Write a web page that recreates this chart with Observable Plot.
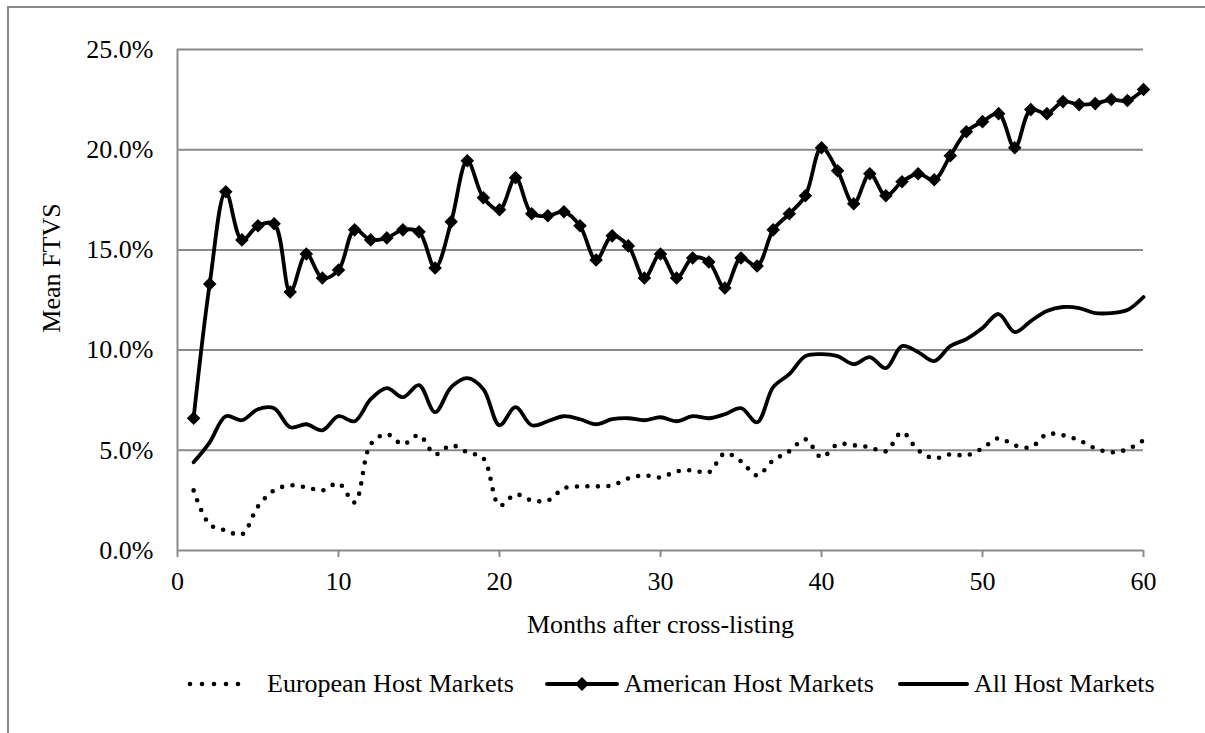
<!DOCTYPE html>
<html>
<head>
<meta charset="utf-8">
<script src="https://cdn.jsdelivr.net/npm/d3@7"></script>
<script src="https://cdn.jsdelivr.net/npm/@observablehq/plot@0.6"></script>
<style>
  html, body { margin: 0; padding: 0; background: #fff; }
  #wrap { position: relative; width: 1205px; height: 733px; overflow: hidden; font-family: "Liberation Serif", "Times New Roman", serif; color: #000; }
  #frame { position: absolute; left: 7px; top: 6px; width: 1300px; height: 800px; border-left: 2px solid #8a8a8a; border-top: 2px solid #8a8a8a; }
  #chart { position: absolute; left: 0; top: 0; }
  .ylab { position: absolute; left: 52px; top: 268px; transform: translate(-50%, -50%) rotate(-90deg); font-size: 26px; white-space: nowrap; }
  .leg { position: absolute; top: 684px; transform: translateY(-50%); font-size: 26px; white-space: nowrap; line-height: 1; }
  .legsw { position: absolute; top: 674px; }
</style>
</head>
<body>
<div id="wrap">
  <div id="frame"></div>
  <div id="chart"></div>
  <div class="ylab">Mean FTVS</div>
</div>
<script>
const months = [1,2,3,4,5,6,7,8,9,10,11,12,13,14,15,16,17,18,19,20,21,22,23,24,25,26,27,28,29,30,31,32,33,34,35,36,37,38,39,40,41,42,43,44,45,46,47,48,49,50,51,52,53,54,55,56,57,58,59,60];

const european = [3.0,1.3,1.0,0.8,2.2,3.0,3.25,3.15,3.0,3.35,2.4,5.3,5.8,5.3,5.75,4.8,5.25,4.9,4.6,2.25,2.8,2.5,2.5,3.1,3.2,3.2,3.25,3.6,3.75,3.65,3.95,4.0,3.9,4.85,4.45,3.75,4.5,4.95,5.55,4.65,5.3,5.25,5.15,4.95,5.9,5.0,4.6,4.8,4.75,5.1,5.6,5.25,5.15,5.8,5.75,5.5,5.1,4.9,5.05,5.5];

const american = [6.6,13.3,17.9,15.5,16.2,16.3,12.9,14.8,13.6,14.0,16.0,15.5,15.6,16.0,15.9,14.1,16.4,19.45,17.6,17.0,18.6,16.8,16.7,16.9,16.2,14.5,15.7,15.2,13.6,14.8,13.6,14.6,14.4,13.1,14.6,14.2,16.0,16.8,17.7,20.1,18.95,17.3,18.8,17.7,18.4,18.8,18.5,19.7,20.9,21.4,21.8,20.1,22.0,21.8,22.4,22.25,22.3,22.5,22.45,23.0];

const allMarkets = [4.4,5.4,6.7,6.5,7.05,7.1,6.15,6.3,6.0,6.7,6.45,7.55,8.1,7.65,8.25,6.9,8.15,8.6,8.05,6.25,7.15,6.25,6.45,6.7,6.55,6.3,6.55,6.6,6.5,6.65,6.45,6.7,6.6,6.8,7.1,6.4,8.15,8.8,9.7,9.8,9.7,9.3,9.65,9.1,10.2,9.9,9.45,10.2,10.55,11.1,11.8,10.9,11.45,11.95,12.15,12.1,11.85,11.85,12.0,12.65];

const seriesNames = ["European Host Markets", "American Host Markets", "All Host Markets"];
const xTicks = [0,10,20,30,40,50,60];
const yTicks = [0,5,10,15,20,25];

const rows = (vals, name) => months.map((m, i) => ({month: m, value: vals[i], series: name}));
const eu = rows(european, seriesNames[0]);
const am = rows(american, seriesNames[1]);
const al = rows(allMarkets, seriesNames[2]);

const gray = "#8a8a8a";
const chart = Plot.plot({
  width: 1205,
  height: 645,
  marginLeft: 177,
  marginRight: 62,
  marginTop: 49,
  marginBottom: 95,
  style: {fontFamily: "'Liberation Serif', 'Times New Roman', serif", fontSize: "26px", background: "transparent", color: "#000"},
  x: {domain: [0, 60]},
  y: {domain: [0, 25]},
  marks: [
    Plot.gridY(yTicks.filter(d => d > 0), {stroke: gray, strokeOpacity: 1, strokeWidth: 2}),
    Plot.ruleX([0], {stroke: gray, strokeWidth: 2}),
    Plot.ruleY([0], {stroke: gray, strokeWidth: 2}),
    Plot.axisX({ticks: xTicks, tickSize: 7, tickPadding: 14, stroke: gray, strokeWidth: 2, fill: "#000", fontSize: 26,
      label: "Months after cross-listing", labelAnchor: "center", labelOffset: 82, labelArrow: "none"}),
    Plot.axisY({ticks: yTicks, tickSize: 0, tickPadding: 24, tickFormat: d => d.toFixed(1) + "%", fontSize: 26, fill: "#000", label: null}),
    Plot.line(eu, {x: "month", y: "value", curve: "catmull-rom", stroke: "#000", strokeWidth: 4.6, strokeDasharray: "0 10.5", strokeLinecap: "round"}),
    Plot.line(al, {x: "month", y: "value", curve: "catmull-rom", stroke: "#000", strokeWidth: 3.8}),
    Plot.line(am, {x: "month", y: "value", curve: "catmull-rom", stroke: "#000", strokeWidth: 3.8}),
    Plot.dot(am, {x: "month", y: "value", symbol: "diamond2", r: 6.1, fill: "#000", stroke: "none"})
  ]
});
document.getElementById("chart").appendChild(chart);

// legend
const wrap = document.getElementById("wrap");
function swatch(left, width, kind) {
  const ns = "http://www.w3.org/2000/svg";
  const s = document.createElementNS(ns, "svg");
  s.setAttribute("width", width + 10);
  s.setAttribute("height", 20);
  s.setAttribute("class", "legsw");
  s.style.left = (left - 5) + "px";
  const ln = document.createElementNS(ns, "line");
  ln.setAttribute("x1", 5); ln.setAttribute("x2", 5 + width);
  ln.setAttribute("y1", 10); ln.setAttribute("y2", 10);
  ln.setAttribute("stroke", "#000");
  if (kind === "dot") {
    ln.setAttribute("stroke-width", 4.6);
    ln.setAttribute("stroke-dasharray", "0 12");
    ln.setAttribute("stroke-linecap", "round");
  } else {
    ln.setAttribute("stroke-width", 4);
    ln.setAttribute("stroke-linecap", "round");
  }
  s.appendChild(ln);
  if (kind === "diamond") {
    const p = document.createElementNS(ns, "path");
    const cx = 5 + width / 2;
    p.setAttribute("d", `M${cx},3L${cx + 7},10L${cx},17L${cx - 7},10Z`);
    p.setAttribute("fill", "#000");
    s.appendChild(p);
  }
  wrap.appendChild(s);
}
function legText(left, text) {
  const d = document.createElement("div");
  d.className = "leg";
  d.style.left = left + "px";
  d.textContent = text;
  wrap.appendChild(d);
}
swatch(190, 60, "dot");      legText(267, seriesNames[0]);
swatch(547, 70, "diamond");  legText(624, seriesNames[1]);
swatch(900, 67, "line");     legText(974, seriesNames[2]);
</script>
</body>
</html>
